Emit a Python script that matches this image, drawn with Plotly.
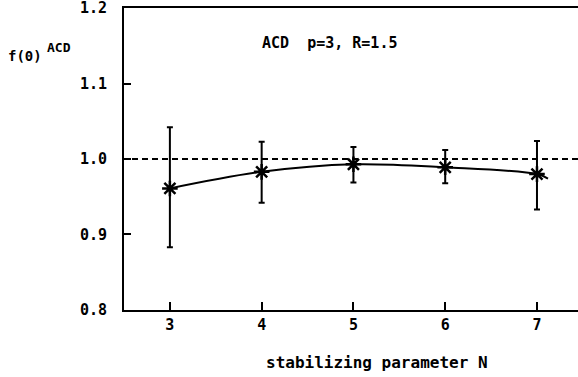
import plotly.graph_objects as go

# ---- data ----
N = [3, 4, 5, 6, 7]
f0_acd = [0.961, 0.983, 0.993, 0.989, 0.980]
err_upper = [1.042, 1.023, 1.016, 1.012, 1.024]
err_lower = [0.883, 0.942, 0.969, 0.968, 0.933]
curve_x = [3, 4, 5, 6, 7, 7.12]
curve_y = [0.961, 0.983, 0.993, 0.989, 0.980, 0.974]
reference_level = 1.0
x_ticks = [3, 4, 5, 6, 7]
y_ticks = [0.8, 0.9, 1.0, 1.1, 1.2]
y_tick_text = ["0.8", "0.9", "1.0", "1.1", "1.2"]

W, H = 578, 377
L, R, T, B = 124, 0, 8, 67
pw = W - L - R
ph = H - T - B

def px_x(p):
    return (p - L) / pw

def px_y(p):
    return (H - B - p) / ph

FONT = "DejaVu Sans Mono"

fig = go.Figure()

fig.add_trace(go.Scatter(
    x=curve_x, y=curve_y, mode="lines",
    line=dict(color="black", width=2, shape="spline"),
    hoverinfo="skip", showlegend=False,
))

fig.add_trace(go.Scatter(
    x=N, y=f0_acd, mode="markers",
    marker=dict(symbol="asterisk", size=13, color="black",
                line=dict(color="black", width=2.5)),
    error_y=dict(
        type="data", symmetric=False,
        array=[u - v for u, v in zip(err_upper, f0_acd)],
        arrayminus=[v - l for v, l in zip(f0_acd, err_lower)],
        color="black", thickness=2, width=3,
    ),
    showlegend=False,
))

fig.add_shape(type="line", xref="paper", yref="y",
              x0=px_x(122), x1=1, y0=reference_level, y1=reference_level,
              line=dict(color="black", width=2, dash="6px,4px"))

fig.add_annotation(text="ACD  p=3, R=1.5", xref="paper", yref="paper",
                   x=px_x(260), y=px_y(43), xanchor="left", yanchor="middle",
                   showarrow=False,
                   font=dict(family=FONT, size=15, color="black", weight="bold"))

fig.add_annotation(text="f(0)", xref="paper", yref="paper",
                   x=px_x(6), y=px_y(56), xanchor="left", yanchor="middle",
                   showarrow=False,
                   font=dict(family=FONT, size=14, color="black", weight="bold"))
fig.add_annotation(text="ACD", xref="paper", yref="paper",
                   x=px_x(45), y=px_y(47), xanchor="left", yanchor="middle",
                   showarrow=False,
                   font=dict(family=FONT, size=13, color="black", weight="bold"))

fig.add_annotation(text="stabilizing parameter N", xref="paper", yref="paper",
                   x=px_x(377), y=px_y(362), xanchor="center", yanchor="middle",
                   showarrow=False,
                   font=dict(family=FONT, size=16, color="black", weight="bold"))

fig.update_xaxes(
    range=[2.5, 7.447], tickvals=x_ticks, ticks="inside", ticklen=8,
    tickwidth=1.5, tickcolor="black", showline=True, linewidth=2,
    linecolor="black", mirror=True, showgrid=False, zeroline=False,
    tickfont=dict(family=FONT, size=15, color="black", weight="bold"),
)
fig.update_yaxes(
    range=[0.7999, 1.2001], tickvals=y_ticks, ticktext=y_tick_text, ticks="inside",
    ticklen=7, tickwidth=1.5, tickcolor="black", showline=True, linewidth=2,
    linecolor="black", showgrid=False, zeroline=False, ticklabelstandoff=12,
    ticklabeloverflow="allow",
    tickfont=dict(family=FONT, size=15, color="black", weight="bold"),
)

fig.update_layout(
    width=W, height=H,
    margin=dict(l=L, r=R, t=T, b=B, pad=0),
    paper_bgcolor="white", plot_bgcolor="white",
)

fig.write_html("out.html")
